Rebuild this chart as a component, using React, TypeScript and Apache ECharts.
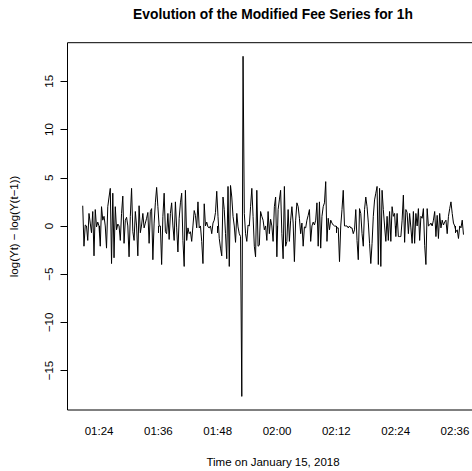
import React, { useEffect, useRef } from "react";
import * as echarts from "echarts";

const chartTitle = "Evolution of the Modified Fee Series for 1h";
const xTitle = "Time on January 15, 2018";
const yTitle = "log(Yt) \u2212 log(Y(t\u22121))";

const tickMinutes = [84, 96, 108, 120, 132, 144, 156];
const timeLabels = ["01:24", "01:36", "01:48", "02:00", "02:12", "02:24", "02:36"];
const yTicks = [-15, -10, -5, 0, 5, 10, 15];

// first observation at 01:20:42, sampling step in seconds
const startMinute = 80.7;
const stepSeconds = 15.2;

const preSpike = [
  2.1, -2.1, 0.1, 0, -1.5, 1.3, 0.3, -0.7, 1.5, -3.1,
  1.7, -0.1, 0.4, 0, -2.1, 2.0, 0.6, 1.0, 0, -2.3,
  2.0, 3.0, 3.9, -3.9, 3.4, -3.3, 2.0, -0.4, 0.2, 0,
  -1.5, 1.3, 3.1, -1.8, 0.6, 0.9, 0, -3.2, 1.0, 3.9,
  -0.6, -1.5, 1.5, 0, -3.1, 2.1, -0.7, 0.1, 1.3, -0.2,
  0.3, 0.8, 1.4, -1.8, 1.5, 1.8, -3.5, 0.3, 2.4, 4.0,
  2.0, 0, 0, -4.0, 1.0, 3.4, -0.6, -0.8, 1.3, -1.4,
  1.3, 2.4, 0, -1.5, 2.5, -0.2, -2.7, 0.8, 2.4, 3.4,
  -1.5, -4.2, 3.7, -1.5, -0.2, -0.8, -0.6, -1.6, 0, 1.6,
  1.1, -0.2, 2.5, -0.2, 0, -1.6, -3.9, 2.3, 0, 0.4,
  -0.1, -0.2, 0, -0.8, 0.3, 0.6, 1.4, 3.6, 1.0, -1.3,
  -2.3, -3.1, 3.0, 1.7, -0.8, -3.4, 4.1, -4.2, 4.2, 3.0,
  1.0, 0, -1.7, 1.3, -0.1, -0.8, -1.1,
];
const spike = [-17.68, 17.6];
const postSpike = [
  1.3, -0.8, -1.6, 0.1, 0, 2.0, 3.9, 1.0, -2.1, -3.2,
  3.7, -2.1, -2.0, 1.5, 1.0, 0.6, -0.4, 0, -1.5, 1.5,
  -0.8, 0.7, 0, -1.6, 2.0, 3.0, -3.2, 1.7, 2.7, 3.7,
  -0.8, -3.4, 4.1, -2.1, -1.6, 1.7, -1.6, 0.6, 2.0, 0.3,
  -3.7, 0.6, 2.4, 2.0, 0.8, -0.8, 0.3, -2.1, -0.1, -0.2,
  0.6, 1.1, 1.7, -1.6, 0, 0.4, 0.1, 0.6, 2.4, -2.1,
  2.5, -2.3, 1.0, 2.0, 2.4, 4.6, -1.6, 0.8, -0.4, 0.6,
  0.3, 0.1, 0, 0, -0.2, -0.2, -3.7, 0, 1.7, 3.7,
  0, 0, 0, -0.2, 0, -0.2, -0.2, -0.8, -0.4, 1.7,
  -1.5, -3.5, 1.8, 1.3, -0.8, -2.1, 1.7, 3.0, 2.0, 0.4,
  -1.8, -3.9, -1.8, 1.0, 2.7, 3.4, 4.1, -4.0, 3.9, -4.2,
  3.7, 1.7, 0, -1.6, 1.0, -1.5, 1.5, -1.6, 2.0, 1.0,
  1.3, -1.1, 1.3, -1.1, -1.1, -1.1, 0.6, 3.2, -1.7, 1.7,
  1.4, -0.8, 1.3, -0.2, -1.8, 1.5, -1.8, 1.3, 0, 1.8,
  -1.5, 1.0, 0.8, 1.8, -2.0, -4.0, 1.8, 0, 0.1, 0.3,
  0, 0.6, 1.5, -1.1, 1.1, -1.3, 1.3, -0.2, 0.6, 0.1,
  0.4, 0.6, -0.8, 1.0, 1.8, 2.5, 1.3, 0.3, 0, -0.6,
  -0.4, -1.3, 0, -0.2, 0.6, -0.9,
];

const FONT = "'Liberation Sans', Arial, Helvetica, sans-serif";
const CANVAS_W = 490;

export default function App() {
  const ref = useRef<HTMLDivElement>(null);
  useEffect(() => {
    if (!ref.current) return;
    const chart = echarts.init(ref.current, null, { renderer: "svg" });
    const values = [...preSpike, ...spike, ...postSpike];
    const data = values.map((v, i) => [startMinute + (i * stepSeconds) / 60, v]);
    const xs = data.map((d) => d[0]);
    const xMinD = Math.min(...xs);
    const xMaxD = Math.max(...xs);
    const yMinD = Math.min(...values);
    const yMaxD = Math.max(...values);
    const xPad = (xMaxD - xMinD) * 0.04;
    const yPad = (yMaxD - yMinD) * 0.04;
    const xMin = xMinD - xPad;
    const xMax = xMaxD + xPad;
    const yMin = yMinD - yPad;
    const yMax = yMaxD + yPad;
    const pxPerMin = 4.944;
    const gridLeft = 67.5;
    const gridTop = 42.7;
    const gridHeight = 367.3;
    const gridWidth = (xMax - xMin) * pxPerMin;

    chart.setOption({
      animation: false,
      backgroundColor: "#fff",
      textStyle: { fontFamily: FONT },
      grid: {
        left: gridLeft,
        top: gridTop,
        width: gridWidth,
        height: gridHeight,
        show: true,
        borderColor: "#000",
        borderWidth: 1,
        backgroundColor: "transparent",
        containLabel: false,
      },
      xAxis: {
        type: "value",
        min: xMin,
        max: xMax,
        splitLine: { show: false },
        axisLine: { show: false },
        axisTick: {
          show: true,
          length: 7,
          lineStyle: { color: "#000", width: 1 },
          customValues: tickMinutes,
        },
        axisLabel: {
          customValues: tickMinutes,
          margin: 15,
          color: "#000",
          fontSize: 11.5,
          fontFamily: FONT,
          formatter: (v: number) => {
            const idx = tickMinutes.findIndex((t) => Math.abs(t - v) < 1e-6);
            return idx >= 0 ? timeLabels[idx] : "";
          },
        },
      },
      yAxis: {
        type: "value",
        min: yMin,
        max: yMax,
        splitLine: { show: false },
        axisLine: { show: false },
        axisTick: {
          show: true,
          length: 7,
          lineStyle: { color: "#000", width: 1 },
          customValues: yTicks,
        },
        axisLabel: {
          customValues: yTicks,
          rotate: 90,
          margin: 13,
          color: "#000",
          fontSize: 11.5,
          fontFamily: FONT,
          formatter: (v: number) => (v < 0 ? "\u2212" + Math.abs(v) : String(v)),
        },
      },
      graphic: [
        {
          type: "text",
          x: 273,
          y: 14,
          style: {
            text: chartTitle,
            fontSize: 13.8,
            fontWeight: "bold",
            fontFamily: FONT,
            fill: "#000",
            align: "center",
            verticalAlign: "middle",
          },
        },
        {
          type: "text",
          x: 273,
          y: 462,
          style: {
            text: xTitle,
            fontSize: 11.5,
            fontFamily: FONT,
            fill: "#000",
            align: "center",
            verticalAlign: "middle",
          },
        },
        {
          type: "text",
          x: 14,
          y: 226.4,
          rotation: Math.PI / 2,
          style: {
            text: yTitle,
            fontSize: 11.5,
            fontFamily: FONT,
            fill: "#000",
            align: "center",
            verticalAlign: "middle",
          },
        },
      ],
      series: [
        {
          type: "line",
          data,
          symbol: "none",
          showSymbol: false,
          lineStyle: { color: "#000", width: 1 },
          silent: true,
        },
      ],
    });
    return () => chart.dispose();
  }, []);
  return (
    <div
      style={{
        position: "fixed",
        left: 0,
        top: 0,
        width: 472,
        height: 471,
        overflow: "hidden",
        background: "#fff",
      }}
    >
      <div ref={ref} style={{ width: CANVAS_W, height: 471 }} />
    </div>
  );
}
